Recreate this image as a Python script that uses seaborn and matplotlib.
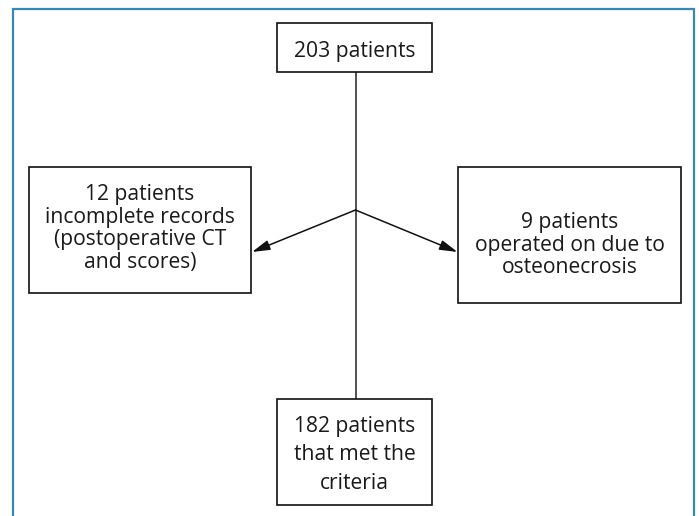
import matplotlib
matplotlib.use("Agg")
import matplotlib.pyplot as plt
import seaborn as sns
import pandas as pd
from matplotlib.patches import Rectangle

# ---- content ----
box_texts = [
    "203 patients",
    "12 patients\nincomplete records\n(postoperative CT\nand scores)",
    "9 patients\noperated on due to\nosteonecrosis",
    "182 patients\nthat met the\ncriteria",
]
box_names = ["top", "left", "right", "bottom"]

# ---- layout (pixels, y downward) ----
boxes = {
    "top": (277, 23, 432, 72),
    "left": (29, 167, 251, 293),
    "right": (458, 167, 681, 303),
    "bottom": (277, 399, 432, 505),
}
text_y = {"top": 51, "left": 228.5, "right": 245, "bottom": 455}
line_spacing = {"top": 1.2, "left": 1.12, "right": 1.12, "bottom": 1.45}
stem_x = 355.5
junction_y = 210

sns.set_theme(style="white")
plt.rcParams["font.family"] = ["Open Sans", "DejaVu Sans"]

fig = plt.figure(figsize=(6.99, 5.16), dpi=100)
ax = fig.add_axes([0, 0, 1, 1])
ax.set_xlim(0, 699)
ax.set_ylim(516, 0)
ax.axis("off")

# outer frame (open at bottom)
frame = pd.DataFrame({"x": [13, 13, 694, 694], "y": [520, 8.5, 8.5, 520]})
ax.plot(frame["x"], frame["y"], color="#3589b8", lw=1.6, solid_joinstyle="miter")

# vertical connector
stem = pd.DataFrame({"x": [stem_x, stem_x], "y": [72, 399]})
sns.lineplot(data=stem, x="x", y="y", ax=ax, color="#333333", lw=1.2,
             sort=False, estimator=None)

# arrows to side boxes
for tip_x in (252, 457.5):
    ax.annotate("", xy=(tip_x, 252), xytext=(stem_x, junction_y),
                arrowprops=dict(arrowstyle="-|>,head_length=0.9,head_width=0.25",
                                color="#111111", lw=1.1, shrinkA=0, shrinkB=0))

# boxes and text
for name, txt in zip(box_names, box_texts):
    x0, y0, x1, y1 = boxes[name]
    ax.add_patch(Rectangle((x0, y0), x1 - x0, y1 - y0, fill=True,
                           facecolor="white", edgecolor="#111111", lw=1.2, zorder=3))
    ax.text((x0 + x1) / 2, text_y[name], txt, ha="center", va="center",
            fontsize=15.2, color="#1a1a1a", linespacing=line_spacing[name], zorder=4)

fig.savefig("out.png", dpi=100)
